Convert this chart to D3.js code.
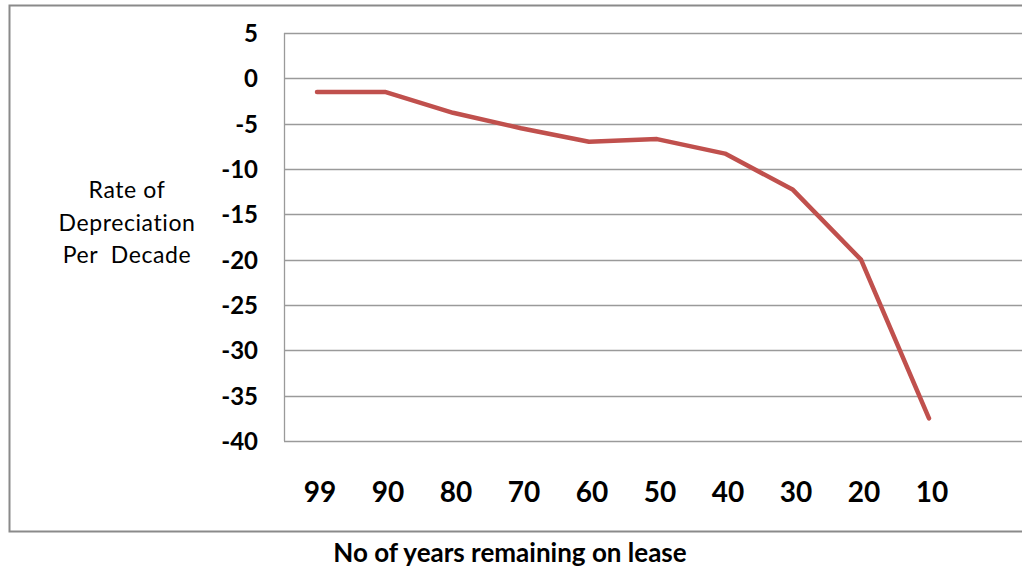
<!DOCTYPE html>
<html>
<head>
<meta charset="utf-8">
<script src="https://cdn.jsdelivr.net/npm/d3@7"></script>
<style>
  html, body { margin: 0; padding: 0; background: #fff; }
  svg { display: block; }
</style>
</head>
<body>
<svg id="chart" width="1022" height="577"></svg>
<script>
const categories = ["99", "90", "80", "70", "60", "50", "40", "30", "20", "10"];
const values = [-1.5, -1.5, -3.8, -5.5, -7.0, -6.7, -8.3, -12.3, -20.0, -37.5];
const yTicks = [5, 0, -5, -10, -15, -20, -25, -30, -35, -40];
const yLabelLines = ["Rate of", "Depreciation", "Per  Decade"];
const xTitle = "No of years remaining on lease";

const svg = d3.select("#chart");

// outer chart border (extends beyond right edge)
svg.append("rect")
  .attr("x", 9.5).attr("y", 5.5)
  .attr("width", 1040).attr("height", 526)
  .attr("fill", "#fff")
  .attr("stroke", "#8a8a8a").attr("stroke-width", 2);

const plotLeft = 284, plotTop = 33, plotBottom = 441;
const x = d3.scaleBand().domain([...categories, ""]).range([plotLeft, plotLeft + 68 * 11]);
const y = d3.scaleLinear().domain([-40, 5]).range([plotBottom, plotTop]);

// gridlines
svg.append("g").selectAll("line").data(yTicks).join("line")
  .attr("x1", plotLeft).attr("x2", 1040)
  .attr("y1", d => Math.round(y(d)) + 0.5).attr("y2", d => Math.round(y(d)) + 0.5)
  .attr("stroke", "#9a9a9a").attr("stroke-width", 1.3);

// left axis line
svg.append("line")
  .attr("x1", plotLeft + 0.5).attr("x2", plotLeft + 0.5)
  .attr("y1", y(5)).attr("y2", y(-40))
  .attr("stroke", "#9a9a9a").attr("stroke-width", 1.3);

// y tick labels
const yAxis = d3.axisLeft(y).tickValues(yTicks).tickSize(0).tickPadding(0).tickFormat(d => String(d));
const gy = svg.append("g").attr("transform", `translate(258,0)`).call(yAxis);
gy.select(".domain").remove();
gy.selectAll("text")
  .attr("font-family", "Lato, sans-serif").attr("font-weight", "bold")
  .attr("font-size", 24).attr("fill", "#000").attr("dy", "0.36em");

// x tick labels
const xAxis = d3.axisBottom(x).tickSize(0).tickPadding(0);
const gx = svg.append("g").attr("transform", `translate(0,502)`).call(xAxis);
gx.select(".domain").remove();
gx.selectAll("text")
  .attr("font-family", "Lato, sans-serif").attr("font-weight", "bold")
  .attr("font-size", 28).attr("fill", "#000").attr("dy", 0)
  .attr("transform", "translate(2,0)");

// line
const line = d3.line()
  .x((d, i) => x(categories[i]) + x.bandwidth() / 2 - 1)
  .y(d => y(d));
svg.append("path")
  .datum(values)
  .attr("d", line)
  .attr("fill", "none")
  .attr("stroke", "#C0504D")
  .attr("stroke-width", 4.5)
  .attr("stroke-linejoin", "round")
  .attr("stroke-linecap", "round");

// y axis title
svg.append("text")
  .attr("x", 127).attr("y", 198)
  .attr("text-anchor", "middle")
  .attr("font-family", "Lato, sans-serif")
  .attr("font-size", 23).attr("letter-spacing", 0.6)
  .attr("fill", "#000")
  .selectAll("tspan").data(yLabelLines).join("tspan")
  .attr("x", 127).attr("dy", (d, i) => i === 0 ? 0 : 32.5)
  .style("white-space", "pre")
  .text(d => d);

// x axis title
svg.append("text")
  .attr("x", 510).attr("y", 562)
  .attr("text-anchor", "middle")
  .attr("font-family", "Lato, sans-serif").attr("font-weight", "bold")
  .attr("font-size", 26).attr("fill", "#000")
  .text(xTitle);
</script>
</body>
</html>
